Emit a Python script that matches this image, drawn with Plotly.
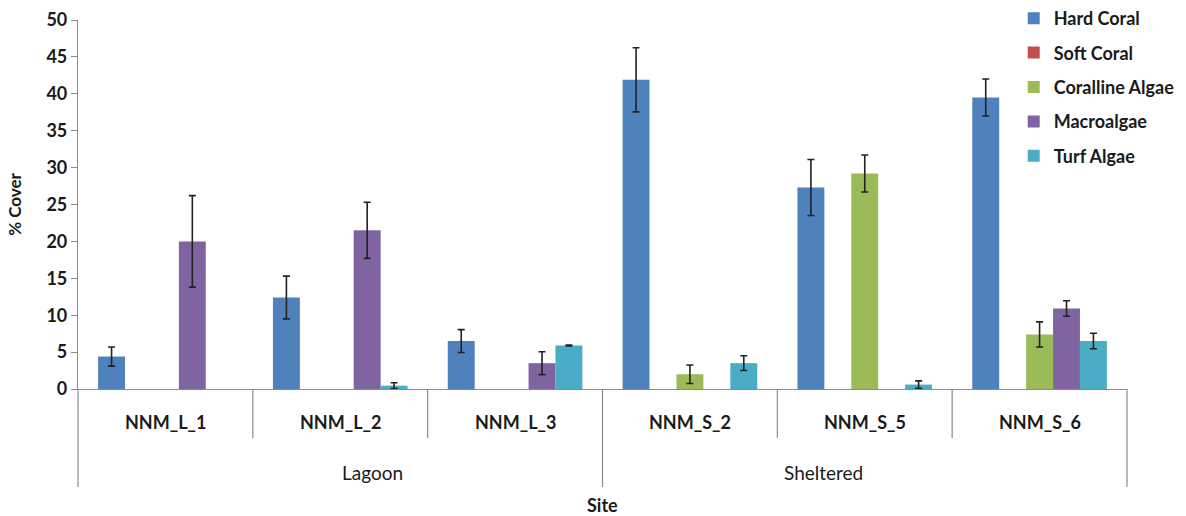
import math
import plotly.graph_objects as go

# Survey sites and their habitat groups
sites = ["NNM_L_1", "NNM_L_2", "NNM_L_3", "NNM_S_2", "NNM_S_5", "NNM_S_6"]
groups = ["Lagoon", "Sheltered"]
group_sites = [3, 3]

# Mean % cover per benthic category
hard_coral = [4.4, 12.4, 6.5, 41.9, 27.3, 39.5]
soft_coral = [0, 0, 0, 0, 0, 0]
coralline_algae = [0, 0, 0, 2.0, 29.2, 7.4]
macroalgae = [20.0, 21.5, 3.5, 0, 0, 10.9]
turf_algae = [0, 0.45, 5.9, 3.5, 0.6, 6.5]

# Standard errors (None where no bar is drawn)
hard_coral_se = [1.3, 2.9, 1.55, 4.35, 3.8, 2.5]
soft_coral_se = [None] * 6
coralline_algae_se = [None, None, None, 1.25, 2.5, 1.7]
macroalgae_se = [6.2, 3.8, 1.55, None, None, 1.05]
turf_algae_se = [None, 0.4, 0.05, 1.0, 0.5, 1.05]

series = [
    ("Hard Coral", hard_coral, hard_coral_se, "#4F81BD"),
    ("Soft Coral", soft_coral, soft_coral_se, "#C0504D"),
    ("Coralline Algae", coralline_algae, coralline_algae_se, "#9BBB59"),
    ("Macroalgae", macroalgae, macroalgae_se, "#8064A2"),
    ("Turf Algae", turf_algae, turf_algae_se, "#4BACC6"),
]

FONT = "Lato"
TXT = "#1a1a1a"
AX = "#8c8c8c"

fig = go.Figure()
for name, vals, se, color in series:
    # zero-cover entries are left empty so no bar or error cap is drawn
    y = [v if v else None for v in vals]
    err = [e if (e is not None and v) else math.nan for v, e in zip(vals, se)]
    fig.add_trace(go.Bar(
        x=sites, y=y, name=name, legendgroup=name,
        marker=dict(color=color, line=dict(width=0)),
        error_y=dict(type="data", array=err, visible=True,
                     color="#222222", thickness=1.6, width=3.5),
    ))

W, H = 1186, 516
ml, mr, mt, mb = 78, 59, 20, 127
plot_h = H - mt - mb

fig.update_layout(
    width=W, height=H,
    margin=dict(l=ml, r=mr, t=mt, b=mb, autoexpand=False),
    paper_bgcolor="white", plot_bgcolor="white",
    barmode="group", bargap=0.23, bargroupgap=0,
    font=dict(family=FONT, color=TXT),
    showlegend=True,
    legend=dict(x=0.892, y=1.0, xanchor="left", yanchor="top",
                yref="container",
                traceorder="grouped", tracegroupgap=8,
                font=dict(family=FONT, size=18, color=TXT, weight="bold"),
                bgcolor="rgba(0,0,0,0)"),
)

fig.update_yaxes(
    range=[0, 50], tick0=0, dtick=5, showgrid=False, zeroline=False,
    showline=True, linecolor=AX, linewidth=1.2,
    ticks="outside", ticklen=6, tickcolor=AX, tickwidth=1.2,
    tickfont=dict(family=FONT, size=18, color=TXT, weight="bold"),
    title=dict(text="% Cover", standoff=20,
               font=dict(family=FONT, size=17, color=TXT, weight="bold")),
)
fig.update_xaxes(
    type="category", range=[-0.5, len(sites) - 0.5],
    showgrid=False, zeroline=False, showticklabels=False,
    showline=True, linecolor=AX, linewidth=1.2, ticks="",
)

# Site labels under each category
for s in sites:
    fig.add_annotation(x=s, xref="x", y=0, yref="paper", yshift=-33,
                       text=s, showarrow=False, yanchor="middle",
                       font=dict(family=FONT, size=18, color=TXT, weight="bold"))

# Dividers between sites (short) and habitat groups (long)
n = len(sites)
short_end = -(438 - (H - mb)) / plot_h
long_end = -(487 - (H - mb)) / plot_h
boundaries = [0]
for k in group_sites:
    boundaries.append(boundaries[-1] + k)
for i in range(n + 1):
    y1 = long_end if i in boundaries else short_end
    fig.add_shape(type="line", xref="paper", yref="paper",
                  x0=i / n, x1=i / n, y0=0, y1=y1,
                  line=dict(color=AX, width=1.2))

# Habitat group labels
start = 0
for g, k in zip(groups, group_sites):
    fig.add_annotation(x=(start + k / 2) / n, xref="paper", y=0, yref="paper",
                       yshift=-83, text=g, showarrow=False, yanchor="middle",
                       font=dict(family=FONT, size=19, color=TXT))
    start += k

fig.add_annotation(x=0.5, xref="paper", y=0, yref="paper", yshift=-116,
                   text="Site", showarrow=False, yanchor="middle",
                   font=dict(family=FONT, size=18, color=TXT, weight="bold"))

fig.write_html("out.html")
